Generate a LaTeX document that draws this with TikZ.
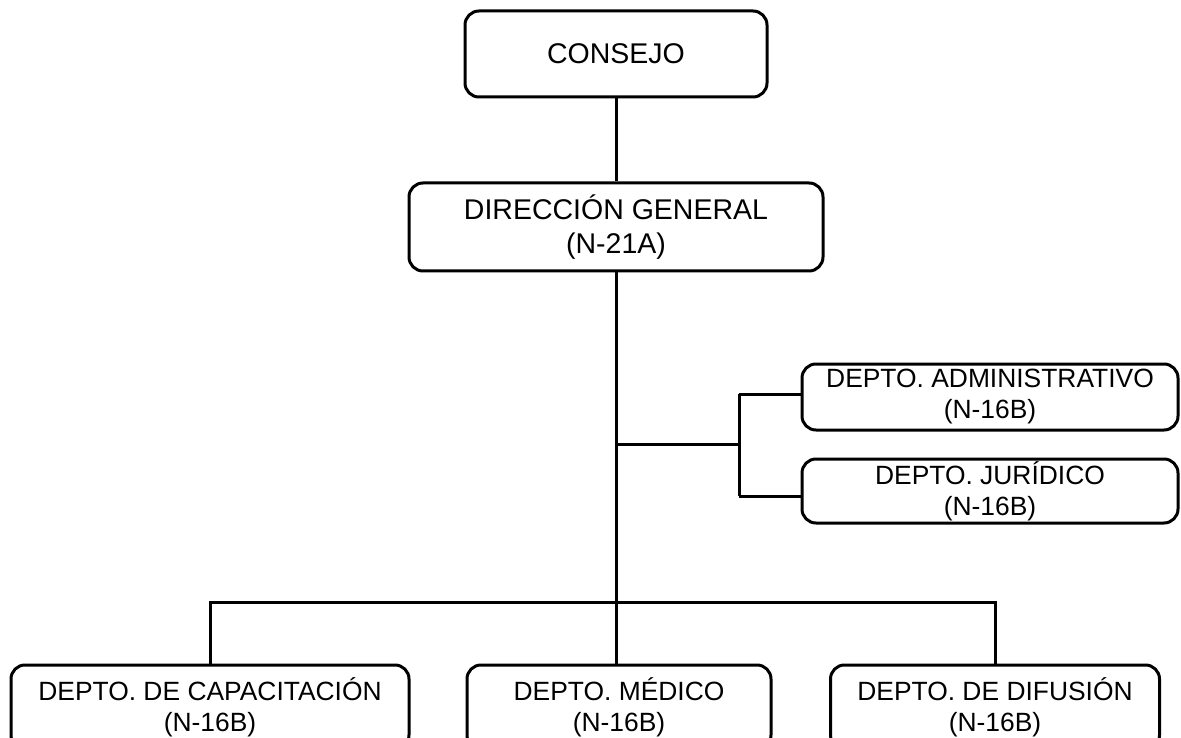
\documentclass[tikz,border=0pt]{standalone}
\usepackage{fontspec}
\setmainfont{Liberation Sans}
\begin{document}
\begin{tikzpicture}[x=1pt,y=-1pt,
  box/.style={draw, line width=3pt, rounded corners=14pt, align=center, inner sep=0pt},
  big/.style={font=\fontsize{28.5}{34}\selectfont},
  dept/.style={font=\fontsize{26.4}{31}\selectfont},
  link/.style={line width=3pt}]
\useasboundingbox (0,0) rectangle (1181,738);
\clip (0,0) rectangle (1181,738);
% nodes
\node[box,big,minimum width=302pt,minimum height=86pt] (con) at (616,54) {CONSEJO};
\node[box,big,minimum width=414pt,minimum height=88pt] (dg) at (616,227) {DIRECCIÓN GENERAL\\(N-21A)};
\node[box,dept,minimum width=376pt,minimum height=66pt] (adm) at (990,397) {DEPTO. ADMINISTRATIVO\\(N-16B)};
\node[box,dept,minimum width=376pt,minimum height=64pt] (jur) at (990,491) {DEPTO. JURÍDICO\\(N-16B)};
\node[box,dept,minimum width=398pt,minimum height=84pt,anchor=north] (cap) at (210,663.5) {DEPTO. DE CAPACITACIÓN\\(N-16B)};
\node[box,dept,minimum width=304pt,minimum height=84pt,anchor=north] (med) at (619,663.5) {DEPTO. MÉDICO\\(N-16B)};
\node[box,dept,minimum width=329pt,minimum height=84pt,anchor=north] (dif) at (995,663.5) {DEPTO. DE DIFUSIÓN\\(N-16B)};
% coordinates
\coordinate (j) at (616,444);
\coordinate (bx) at (739,444);
\coordinate (b1) at (739,394);
\coordinate (b2) at (739,496);
\coordinate (bus) at (616,602);
% connectors
\draw[link] (con) -- (dg);
\draw[link] (dg.south) -- (bus);
\draw[link] (j) -- (bx);
\draw[link] (b1) -- (b2);
\draw[link] (b1) -- (adm.west |- b1);
\draw[link] (b2) -- (jur.west |- b2);
\draw[link] (cap.north) |- (bus) -| (dif.north);
\draw[link] (bus) -- (bus |- med.north);
\end{tikzpicture}
\end{document}
